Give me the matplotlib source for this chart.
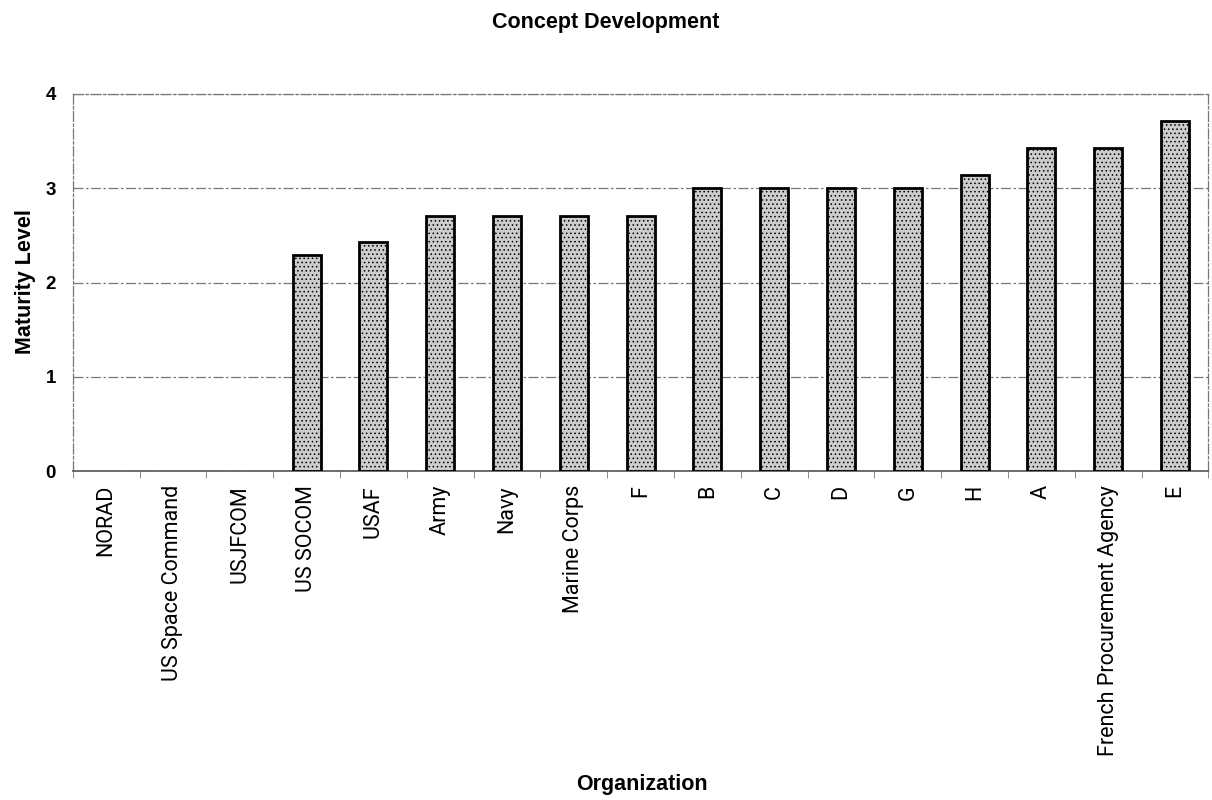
import matplotlib
matplotlib.use("Agg")
import matplotlib.pyplot as plt
import numpy as np

# Concept Development maturity by organization
organizations = ["NORAD", "US Space Command", "USJFCOM", "US SOCOM", "USAF", "Army", "Navy",
                 "Marine Corps", "F", "B", "C", "D", "G", "H", "A",
                 "French Procurement Agency", "E"]
maturity = [0, 0, 0, 2.29, 2.43, 2.71, 2.71, 2.71, 2.71, 3.0, 3.0, 3.0, 3.0, 3.14, 3.43, 3.43, 3.71]
y_ticks = [0, 1, 2, 3, 4]

plt.rcParams['hatch.color'] = '#4a4a4a'
plt.rcParams['hatch.linewidth'] = 0.6

bold_font = ['Liberation Sans', 'DejaVu Sans']

fig = plt.figure(figsize=(12.12, 8), dpi=100)
ax = fig.add_axes([0.060, 0.411, 0.937, 0.4715])

x = np.arange(len(organizations))
bars = ax.bar(x, maturity, width=0.42, color='#cccccc', edgecolor='black',
              linewidth=2, hatch='....', zorder=3)
# zero-height bars are not drawn in the original
for b, v in zip(bars, maturity):
    if v == 0:
        b.set_visible(False)

ax.set_xlim(-0.5, len(organizations) - 0.5)
ax.set_ylim(0, 4)
ax.set_yticks(y_ticks)
ax.set_yticklabels([str(t) for t in y_ticks], fontsize=13.5, fontweight='bold', family=bold_font)
ax.yaxis.grid(True, color='#777777', linestyle=(0, (8, 2, 2, 2)), linewidth=0.9, zorder=0)

ax.set_xticks(x)
ax.set_xticklabels(organizations, rotation=90, fontsize=15.5, color='black',
                   family=['Roboto', 'DejaVu Sans'])
ax.set_xticks(np.arange(-0.5, len(organizations), 1), minor=True)
ax.tick_params(axis='x', which='major', length=0, pad=10)
ax.tick_params(axis='x', which='minor', length=5, color='#777777')
ax.tick_params(axis='y', length=0, pad=12)

for side in ['top', 'right', 'left']:
    ax.spines[side].set_linestyle((0, (8, 2, 2, 2)))
    ax.spines[side].set_color('#777777')
    ax.spines[side].set_linewidth(0.9)
ax.spines['bottom'].set_color('#555555')
ax.spines['bottom'].set_linewidth(1.2)

fig.text(0.5, 0.972, "Concept Development", ha='center', va='center', fontsize=15.5,
         fontweight='bold', family=bold_font)
fig.text(0.021, 0.6475, "Maturity Level", ha='center', va='center', rotation=90, fontsize=15.5,
         fontweight='bold', family=bold_font)
fig.text(0.53, 0.019, "Organization", ha='center', va='center', fontsize=15.5,
         fontweight='bold', family=bold_font)

fig.savefig("out.png", dpi=100, facecolor='white')
